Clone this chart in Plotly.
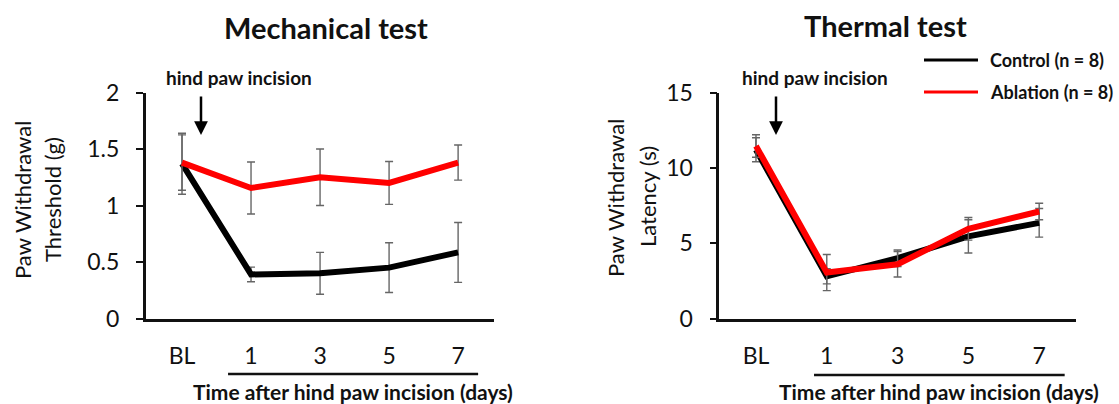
import plotly.graph_objects as go

W, H = 1119, 404

# ---------------- data ----------------
categories = ["BL", "1", "3", "5", "7"]
positions = [0, 1, 2, 3, 4]

mech_control = [1.37, 0.39, 0.40, 0.45, 0.585]
mech_control_err = [0.27, 0.065, 0.185, 0.22, 0.265]
mech_ablation = [1.38, 1.155, 1.25, 1.20, 1.38]
mech_ablation_err = [0.245, 0.23, 0.25, 0.19, 0.155]

therm_control = [11.2, 2.8, 4.0, 5.45, 6.35]
therm_control_err = [0.8, 0.5, 0.55, 1.1, 0.95]
therm_ablation = [11.45, 3.05, 3.6, 5.95, 7.1]
therm_ablation_err = [0.75, 1.2, 0.85, 0.75, 0.55]

mech_yticks = [0, 0.5, 1, 1.5, 2]
therm_yticks = [0, 5, 10, 15]

FONT = "Lato"
BLACK = "#000000"
RED = "#ff0000"
ERR = "#666666"


def px(x):
    return x / W


def py(y):
    return 1 - y / H


fig = go.Figure()


def add_series(xa, ya, y, err, color, name):
    fig.add_trace(go.Scatter(
        x=positions, y=y, mode="lines", name=name, showlegend=False,
        line=dict(color=color, width=6),
        error_y=dict(type="data", array=err, visible=True, color=ERR,
                     thickness=1.4, width=4),
        xaxis=xa, yaxis=ya,
    ))


add_series("x", "y", mech_control, mech_control_err, BLACK, "Control (n = 8)")
add_series("x", "y", mech_ablation, mech_ablation_err, RED, "Ablation (n = 8)")
add_series("x2", "y2", therm_control, therm_control_err, BLACK, "Control (n = 8)")
add_series("x2", "y2", therm_ablation, therm_ablation_err, RED, "Ablation (n = 8)")

ydom = [py(318.5), py(92.5)]
axis_common = dict(showgrid=False, zeroline=False, showline=True,
                   linecolor="#111111", linewidth=2.5, automargin=False)
tickfont = dict(family=FONT, size=23, color="#111111")

fig.update_layout(
    template="none",
    width=W, height=H,
    margin=dict(l=0, r=0, t=0, b=0, pad=0, autoexpand=False),
    paper_bgcolor="white", plot_bgcolor="white",
    showlegend=False,
    xaxis=dict(domain=[px(145.7), px(494)], range=[-0.526, 4.52],
               tickmode="array", tickvals=positions, ticktext=categories,
               ticks="", ticklabelstandoff=15, tickfont=tickfont,
               anchor="y", **axis_common),
    yaxis=dict(domain=ydom, range=[0, 2], tickmode="array",
               tickvals=mech_yticks, ticktext=[str(v) for v in mech_yticks],
               ticks="outside", ticklen=7, tickwidth=2, tickcolor="#111111",
               ticklabelstandoff=12, tickfont=tickfont, anchor="x",
               **axis_common),
    xaxis2=dict(domain=[px(719.3), px(1076)], range=[-0.518, 4.52],
                tickmode="array", tickvals=positions, ticktext=categories,
                ticks="", ticklabelstandoff=15, tickfont=tickfont,
                anchor="y2", **axis_common),
    yaxis2=dict(domain=ydom, range=[0, 15], tickmode="array",
                tickvals=therm_yticks, ticktext=[str(v) for v in therm_yticks],
                ticks="outside", ticklen=7, tickwidth=2, tickcolor="#111111",
                ticklabelstandoff=12, tickfont=tickfont, anchor="x2",
                **axis_common),
)

ann = []


def text(x, y, s, size, bold=False, angle=0, xanchor="center"):
    ann.append(dict(
        x=px(x), y=py(y), xref="paper", yref="paper",
        text=f"<b>{s}</b>" if bold else s, showarrow=False,
        textangle=angle, xanchor=xanchor, yanchor="middle",
        font=dict(family=FONT, size=size, color="#111111"),
    ))


# titles
text(326, 27, "Mechanical test", 29, bold=True)
text(885, 25, "Thermal test", 29, bold=True)
# incision labels
text(239, 78, "hind paw incision", 19, bold=True)
text(815, 78, "hind paw incision", 19, bold=True)
# y titles
text(22, 200, "Paw Withdrawal", 22, angle=-90)
text(52, 200, "Threshold (g)", 22, angle=-90)
text(615, 198, "Paw Withdrawal", 22, angle=-90)
text(647, 197, "Latency (s)", 22, angle=-90)
# x titles
text(353, 391, "Time after hind paw incision (days)", 21, bold=True)
text(939, 391, "Time after hind paw incision (days)", 21, bold=True)
# legend text
text(988, 60, "Control (n = 8)", 18, bold=True, xanchor="left")
text(988, 92, "Ablation (n = 8)", 18, bold=True, xanchor="left")

# arrows
for xpix in (201, 776):
    ann.append(dict(
        x=px(xpix), y=py(135), xref="paper", yref="paper",
        ax=0, ay=-40, axref="pixel", ayref="pixel",
        text="", showarrow=True, arrowhead=2, arrowsize=1.1,
        arrowwidth=2.5, arrowcolor="#000000",
    ))

fig.update_layout(annotations=ann)

shapes = [
    # underline of day ticks
    dict(type="line", xref="x", yref="paper", x0=0.667, x1=4.29,
         y0=py(374), y1=py(374), line=dict(color="#111111", width=2.5)),
    dict(type="line", xref="x2", yref="paper", x0=0.82, x1=4.36,
         y0=py(375), y1=py(375), line=dict(color="#111111", width=2.5)),
    # legend samples
    dict(type="line", xref="paper", yref="paper", x0=px(924), x1=px(978),
         y0=py(60), y1=py(60), line=dict(color=BLACK, width=3)),
    dict(type="line", xref="paper", yref="paper", x0=px(924), x1=px(978),
         y0=py(92), y1=py(92), line=dict(color=RED, width=3)),
]
fig.update_layout(shapes=shapes)

fig.write_html(
    "out.html",
    config={"displayModeBar": False},
    post_script="document.body.style.margin='0px';"
                "document.body.style.padding='0px';"
                "document.body.style.overflow='hidden';",
)
